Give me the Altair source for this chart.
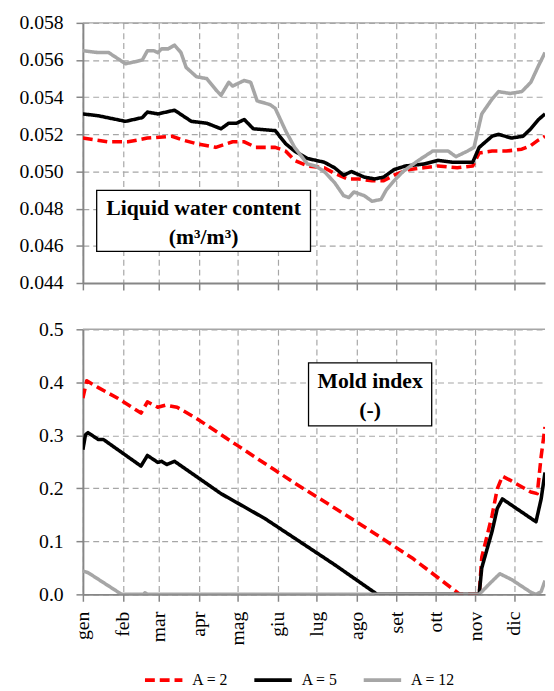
import altair as alt
import pandas as pd

months = ["gen", "feb", "mar", "apr", "mag", "giu", "lug", "ago", "set", "ott", "nov", "dic"]
month_days = [0, 31, 59, 90, 120, 151, 181, 212, 243, 273, 304, 334]
series_names = ["A = 2", "A = 5", "A = 12"]
series_colors = ["#ff0000", "#000000", "#a6a6a6"]

# Liquid water content (m3/m3)
lwc_a2_days = [0, 19, 35, 50, 69, 77, 88, 103, 116, 125, 134, 149, 157, 164, 174, 187, 195, 205, 214, 224, 233, 241, 252, 264, 275, 290, 302, 307, 317, 328, 340, 347, 353, 358]
lwc_a2_vals = [0.0518, 0.0516, 0.0516, 0.0518, 0.0519, 0.0517, 0.0515, 0.0513, 0.0516, 0.0516, 0.0513, 0.0513, 0.0511, 0.0506, 0.0503, 0.0502, 0.0499, 0.0496, 0.0496, 0.0495, 0.0495, 0.0498, 0.0501, 0.0502, 0.0503, 0.0502, 0.0503, 0.0510, 0.0511, 0.0511, 0.0512, 0.0514, 0.0517, 0.0519]

lwc_a5_days = [0, 12, 33, 46, 50, 58, 71, 84, 96, 107, 113, 119, 125, 132, 149, 157, 164, 174, 187, 195, 202, 208, 218, 226, 233, 241, 250, 264, 275, 286, 302, 307, 317, 322, 332, 341, 347, 353, 358]
lwc_a5_vals = [0.0531, 0.0530, 0.0527, 0.0529, 0.0532, 0.0531, 0.0533, 0.0527, 0.0526, 0.0523, 0.0526, 0.0526, 0.0528, 0.0523, 0.0522, 0.0515, 0.0511, 0.0507, 0.0505, 0.0502, 0.0498, 0.0500, 0.0497, 0.0496, 0.0497, 0.0501, 0.0503, 0.0504, 0.0506, 0.0505, 0.0505, 0.0513, 0.0519, 0.0520, 0.0518, 0.0519, 0.0523, 0.0528, 0.0531]

lwc_a12_days = [0, 12, 20, 33, 40, 46, 50, 55, 58, 61, 66, 71, 76, 80, 88, 96, 103, 107, 113, 116, 119, 125, 130, 135, 145, 149, 157, 164, 174, 180, 187, 195, 202, 206, 210, 218, 224, 231, 235, 241, 248, 260, 271, 283, 289, 298, 303, 309, 317, 322, 331, 340, 347, 353, 358]
lwc_a12_vals = [0.0565, 0.0564, 0.0564, 0.0558, 0.0559, 0.0560, 0.0565, 0.0565, 0.0564, 0.0566, 0.0566, 0.0568, 0.0564, 0.0556, 0.0551, 0.0550, 0.0544, 0.0541, 0.0548, 0.0546, 0.0547, 0.0549, 0.0548, 0.0538, 0.0536, 0.0534, 0.0522, 0.0513, 0.0504, 0.0503, 0.0500, 0.0494, 0.0487, 0.0486, 0.0489, 0.0487, 0.0484, 0.0485, 0.0490, 0.0495, 0.0500, 0.0506, 0.0511, 0.0511, 0.0508, 0.0511, 0.0513, 0.0531, 0.0539, 0.0543, 0.0542, 0.0543, 0.0548, 0.0557, 0.0564]

# Mold index (-)
mi_a2_days = [0, 3, 12, 27, 45, 50, 58, 64, 73, 88, 119, 149, 164, 195, 226, 256, 292, 307, 309, 317, 321, 325, 332, 347, 352, 355, 358]
mi_a2_vals = [0.370, 0.403, 0.390, 0.370, 0.342, 0.363, 0.353, 0.357, 0.353, 0.332, 0.282, 0.234, 0.210, 0.163, 0.115, 0.067, 0.0, 0.0, 0.07, 0.149, 0.199, 0.223, 0.214, 0.193, 0.190, 0.26, 0.316]

mi_a5_days = [0, 2, 4, 12, 16, 45, 50, 58, 61, 65, 71, 107, 141, 164, 195, 228, 307, 309, 317, 321, 325, 351, 355, 358]
mi_a5_vals = [0.273, 0.301, 0.305, 0.292, 0.292, 0.242, 0.262, 0.249, 0.251, 0.245, 0.251, 0.190, 0.143, 0.106, 0.056, 0.0, 0.0, 0.05, 0.119, 0.162, 0.180, 0.137, 0.180, 0.230]

mi_a12_days = [0, 4, 30, 47, 48, 50, 307, 315, 323, 332, 347, 351, 355, 358]
mi_a12_vals = [0.044, 0.041, 0.0, 0.0, 0.003, 0.0, 0.0, 0.02, 0.039, 0.028, 0.004, 0.0, 0.005, 0.026]


def long_df(parts):
    frames = []
    for name, days, vals in parts:
        frames.append(pd.DataFrame({"day": days, "value": vals, "serie": name}))
    return pd.concat(frames, ignore_index=True)


lwc_df = long_df([(series_names[0], lwc_a2_days, lwc_a2_vals),
                  (series_names[1], lwc_a5_days, lwc_a5_vals),
                  (series_names[2], lwc_a12_days, lwc_a12_vals)])
mi_df = long_df([(series_names[0], mi_a2_days, mi_a2_vals),
                 (series_names[1], mi_a5_days, mi_a5_vals),
                 (series_names[2], mi_a12_days, mi_a12_vals)])

W = 469
H_TOP = 264
H_BOT = 269
FONT = "Liberation Serif, Times New Roman, DejaVu Serif, serif"
GRID = "#a6a6a6"
AXIS = "#868686"

label_expr = "[" + ",".join("'" + m + "'" for m in months) + "][indexof([" + ",".join(str(d) for d in month_days) + "], datum.value)]"


def make_legend():
    return alt.Legend(title=None, orient="none", legendX=61, legendY=646,
                      direction="horizontal", columns=3,
                      symbolType="stroke", symbolSize=1444, symbolStrokeWidth=4,
                      labelFont=FONT, labelFontSize=16, labelColor="black",
                      labelOffset=8, columnPadding=18)


color_enc = alt.Color("serie:N", scale=alt.Scale(domain=series_names, range=series_colors), legend=make_legend())
dash_enc = alt.StrokeDash("serie:N", scale=alt.Scale(domain=series_names, range=[[10, 5], [1, 0], [1, 0]]),
                          legend=make_legend())


def panel(df, ydomain, yticks, yfmt, show_labels):
    x_axis = alt.Axis(values=month_days, labelExpr=label_expr, labels=show_labels, labelAngle=-90,
                      labelPadding=10, title=None, grid=True, tickSize=7)
    y_axis = alt.Axis(values=yticks, format=yfmt, title=None, grid=True, tickSize=7,
                      labelPadding=13, minExtent=66, maxExtent=66)
    lines = alt.Chart(df).mark_line(strokeWidth=3.6, strokeJoin="round", clip=True).encode(
        x=alt.X("day:Q", scale=alt.Scale(domain=[0, 358], nice=False), axis=x_axis),
        y=alt.Y("value:Q", scale=alt.Scale(domain=ydomain, nice=False, zero=False), axis=y_axis),
        color=color_enc,
        strokeDash=dash_enc,
    )
    top_rule = alt.Chart(pd.DataFrame({"k": [0]})).mark_rule(color=GRID, strokeWidth=1.5).encode(
        x=alt.value(0), x2=alt.value(W), y=alt.value(0)
    )
    return lines, top_rule


lwc_lines, lwc_rule = panel(lwc_df, [0.044, 0.058], [0.044, 0.046, 0.048, 0.050, 0.052, 0.054, 0.056, 0.058],
                            ".3f", False)
mi_lines, mi_rule = panel(mi_df, [0, 0.5], [0, 0.1, 0.2, 0.3, 0.4, 0.5], ".1f", True)

lwc_title = pd.DataFrame({"line": ["Liquid water content", "(m³/m³)"]})
mi_title = pd.DataFrame({"line": ["Mold index", "(-)"]})


def box(x0, x1, y0, y1):
    return alt.Chart(pd.DataFrame({"k": [0]})).mark_rect(fill="white", stroke="black", strokeWidth=1.3).encode(
        x=alt.value(x0), x2=alt.value(x1), y=alt.value(y0), y2=alt.value(y1))


def label(df, row, x, y):
    return alt.Chart(df.iloc[[row]]).mark_text(font=FONT, fontSize=22, fontWeight="bold",
                                               baseline="alphabetic", color="black").encode(
        text="line:N", x=alt.value(x), y=alt.value(y))


top = alt.layer(lwc_rule, lwc_lines, box(14, 231, 170, 232),
                label(lwc_title, 0, 122.5, 195), label(lwc_title, 1, 122.5, 224)).properties(width=W, height=H_TOP)
bottom = alt.layer(mi_rule, mi_lines, box(229, 354, 34, 98),
                   label(mi_title, 0, 291.5, 60), label(mi_title, 1, 291.5, 89)).properties(width=W, height=H_BOT)

chart = alt.vconcat(top, bottom, spacing=27).resolve_scale(color="shared", strokeDash="shared").properties(
    padding={"left": 10, "top": 0, "right": 0, "bottom": 0}
).configure_view(stroke=None).configure_axis(
    domainColor=AXIS, domainWidth=2, tickColor=AXIS, tickWidth=1.5,
    gridColor=GRID, gridDash=[6, 4], gridWidth=1.2,
    labelFont=FONT, labelFontSize=20, labelColor="black"
).configure_legend(labelFont=FONT)

chart.save("out.html", embed_options={"renderer": "svg", "actions": False})
